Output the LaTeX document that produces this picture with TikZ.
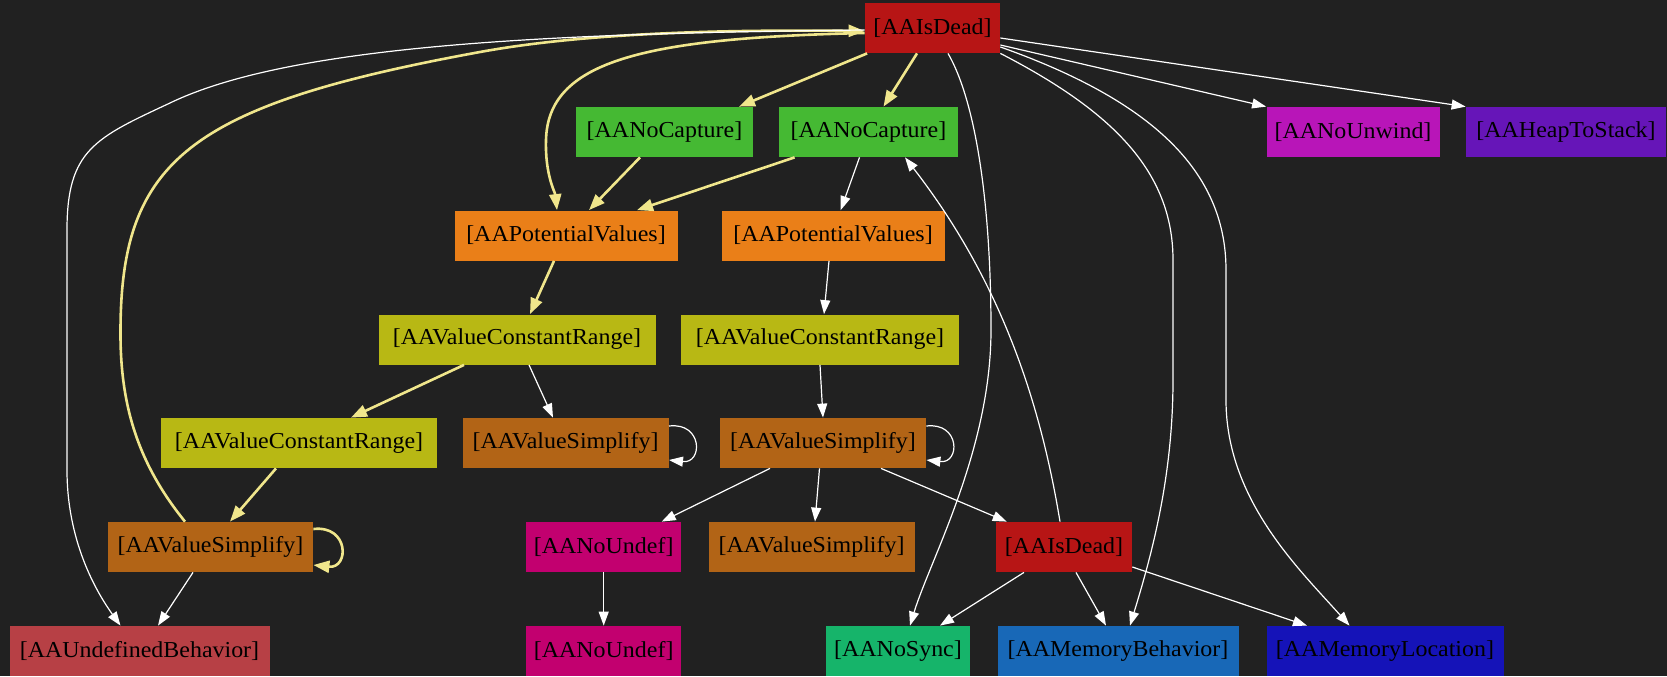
\documentclass[tikz,border=0pt]{standalone}
\usepackage{fontspec}
\setmainfont{Liberation Serif}[FakeStretch=1.05]
\usetikzlibrary{arrows.meta}

\definecolor{bg}{HTML}{212121}
\definecolor{cDead}{HTML}{B71515}
\definecolor{cCapture}{HTML}{45B933}
\definecolor{cPotential}{HTML}{EA7F18}
\definecolor{cRange}{HTML}{B8B814}
\definecolor{cSimplify}{HTML}{B26416}
\definecolor{cUndef}{HTML}{C2006F}
\definecolor{cUB}{HTML}{B74045}
\definecolor{cSync}{HTML}{16B46A}
\definecolor{cMemBeh}{HTML}{1868B7}
\definecolor{cMemLoc}{HTML}{1513B8}
\definecolor{cUnwind}{HTML}{B815B8}
\definecolor{cHeap}{HTML}{6615B8}
\definecolor{hot}{HTML}{F0E68C}

\tikzset{
  box/.style={rectangle, inner sep=0pt, minimum height=25pt,
    font=\fontsize{11.4}{13}\selectfont, text=black},
  plainedge/.style={draw=white, line width=0.6pt,
    -{Triangle[length=7pt,width=5pt]}},
  hotedge/.style={draw=hot, line width=1.3pt,
    -{Triangle[length=8pt,width=6pt]}},
}

\begin{document}
\begin{tikzpicture}[x=0.5pt, y=-0.5pt]
\fill[bg] (0,0) rectangle (1667,676);
\useasboundingbox (0,0) rectangle (1667,676);

% attributor nodes
\node[box, fill=cDead,      minimum width=67.5pt]  (deadA) at (932.5,28)  {[AAIsDead]};
\node[box, fill=cCapture,   minimum width=88.5pt]  (capA)  at (664.5,132) {[AANoCapture]};
\node[box, fill=cCapture,   minimum width=89.5pt]  (capB)  at (868.5,132) {[AANoCapture]};
\node[box, fill=cUnwind,    minimum width=86.5pt]  (unw)   at (1353,132)  {[AANoUnwind]};
\node[box, fill=cHeap,      minimum width=100pt]   (heap)  at (1566,132)  {[AAHeapToStack]};
\node[box, fill=cPotential, minimum width=111.5pt] (potA)  at (566,235.5) {[AAPotentialValues]};
\node[box, fill=cPotential, minimum width=111.5pt] (potB)  at (833,235.5) {[AAPotentialValues]};
\node[box, fill=cRange,     minimum width=138.5pt] (rngA)  at (517,339.5) {[AAValueConstantRange]};
\node[box, fill=cRange,     minimum width=139pt]   (rngB)  at (820,339.5) {[AAValueConstantRange]};
\node[box, fill=cRange,     minimum width=138pt]   (rngC)  at (299,443)   {[AAValueConstantRange]};
\node[box, fill=cSimplify,  minimum width=103pt]   (simA)  at (565.6,443) {[AAValueSimplify]};
\node[box, fill=cSimplify,  minimum width=103pt]   (simB)  at (823,443)   {[AAValueSimplify]};
\node[box, fill=cSimplify,  minimum width=102.5pt] (simC)  at (210.5,547) {[AAValueSimplify]};
\node[box, fill=cUndef,     minimum width=77.5pt]  (undA)  at (603.7,547) {[AANoUndef]};
\node[box, fill=cSimplify,  minimum width=103pt]   (simD)  at (811.6,547) {[AAValueSimplify]};
\node[box, fill=cDead,      minimum width=68pt]    (deadB) at (1064,547)  {[AAIsDead]};
\node[box, fill=cUB,        minimum width=130pt]   (ub)    at (139.5,651) {[AAUndefinedBehavior]};
\node[box, fill=cUndef,     minimum width=77.5pt]  (undB)  at (603.7,651) {[AANoUndef]};
\node[box, fill=cSync,      minimum width=72pt]    (sync)  at (898,651)   {[AANoSync]};
\node[box, fill=cMemBeh,    minimum width=120.5pt] (membeh) at (1118,651) {[AAMemoryBehavior]};
\node[box, fill=cMemLoc,    minimum width=118.5pt] (memloc) at (1385,651) {[AAMemoryLocation]};

% highlighted dependency chain
\draw[hotedge] ([shift={(2.5,0)}]deadA.south west) -- ([shift={(74.5,0)}]capA.north);
\draw[hotedge] ([shift={(-15.5,0)}]deadA.south) -- ([shift={(15,0)}]capB.north);
\draw[hotedge] ([shift={(0,5)}]deadA.west) .. controls (640,38) and (548,62) .. (546,140)
  .. controls (545,175) and (555,192) .. ([shift={(-9,0)}]potA.north);
\draw[hotedge] ([shift={(-24.5,0)}]capA.south) -- ([shift={(23,0)}]potA.north);
\draw[hotedge] ([shift={(16,0)}]capB.south west) -- ([shift={(71,0)}]potA.north);
\draw[hotedge] ([shift={(-12,0)}]potA.south) -- ([shift={(13,0)}]rngA.north);
\draw[hotedge] ([shift={(-53,0)}]rngA.south) -- ([shift={(52,0)}]rngC.north);
\draw[hotedge] ([shift={(-23,0)}]rngC.south) -- ([shift={(19.5,0)}]simC.north);
\draw[hotedge] ([shift={(0,-18)}]simC.east) .. controls ([shift={(36,-22)}]simC.east)
  and ([shift={(36,22)}]simC.east) .. ([shift={(0,18)}]simC.east);
\draw[hotedge] ([shift={(-25.5,0)}]simC.north) .. controls (135,460) and (120,400) .. (120.5,330)
  .. controls (121,160) and (190,105) .. (480,52)
  .. controls (600,30) and (760,30) .. ([shift={(0,3)}]deadA.west);

% remaining dependencies
\draw[plainedge] ([shift={(0,2)}]deadA.west) .. controls (550,33) and (290,45) .. (170,103)
  .. controls (95,138) and (67,150) .. (67,230) -- (67,470)
  .. controls (67,540) and (95,590) .. ([shift={(-19,0)}]ub.north);
\draw[plainedge] ([shift={(0,17)}]deadA.east) -- (unw.north west);
\draw[plainedge] ([shift={(0,10)}]deadA.east) -- (heap.north west);
\draw[plainedge] ([shift={(15.5,0)}]deadA.south) .. controls (975,100) and (991,200) .. (991,330)
  .. controls (991,450) and (930,560) .. ([shift={(12,0)}]sync.north);
\draw[plainedge] (deadA.south east) .. controls (1110,110) and (1173,170) .. (1173,260)
  -- (1173,380) .. controls (1173,480) and (1150,560) .. ([shift={(12,0)}]membeh.north);
\draw[plainedge] ([shift={(0,19)}]deadA.east) .. controls (1150,100) and (1226,170) .. (1226,270)
  -- (1226,400) .. controls (1226,500) and (1300,570) .. ([shift={(-35.5,0)}]memloc.north);
\draw[plainedge] ([shift={(-4,0)}]deadB.north) .. controls (1040,400) and (1000,280)
  .. ([shift={(36.5,0)}]capB.south);
\draw[plainedge] ([shift={(-9,0)}]capB.south) -- ([shift={(7.7,0)}]potB.north);
\draw[plainedge] ([shift={(-4,0)}]potB.south) -- ([shift={(4,0)}]rngB.north);
\draw[plainedge] ([shift={(12,0)}]rngA.south) -- ([shift={(-12.6,0)}]simA.north);
\draw[plainedge] ([shift={(0,-17)}]simA.east) .. controls ([shift={(34,-21)}]simA.east)
  and ([shift={(34,21)}]simA.east) .. ([shift={(0,17)}]simA.east);
\draw[plainedge] (rngB.south) -- (simB.north);
\draw[plainedge] ([shift={(0,-17)}]simB.east) .. controls ([shift={(34,-21)}]simB.east)
  and ([shift={(34,21)}]simB.east) .. ([shift={(0,17)}]simB.east);
\draw[plainedge] ([shift={(-53,0)}]simB.south) -- ([shift={(58,0)}]undA.north);
\draw[plainedge] ([shift={(-3.5,0)}]simB.south) -- ([shift={(3.4,0)}]simD.north);
\draw[plainedge] ([shift={(58,0)}]simB.south) -- ([shift={(-57.3,0)}]deadB.north);
\draw[plainedge] (undA.south) -- (undB.north);
\draw[plainedge] ([shift={(-17.5,0)}]simC.south) -- ([shift={(18.5,0)}]ub.north);
\draw[plainedge] ([shift={(-40,0)}]deadB.south) -- ([shift={(42,0)}]sync.north);
\draw[plainedge] ([shift={(12,0)}]deadB.south) -- ([shift={(-12,0)}]membeh.north);
\draw[plainedge] ([shift={(0,20)}]deadB.east) -- ([shift={(-78,0)}]memloc.north);
\end{tikzpicture}
\end{document}
